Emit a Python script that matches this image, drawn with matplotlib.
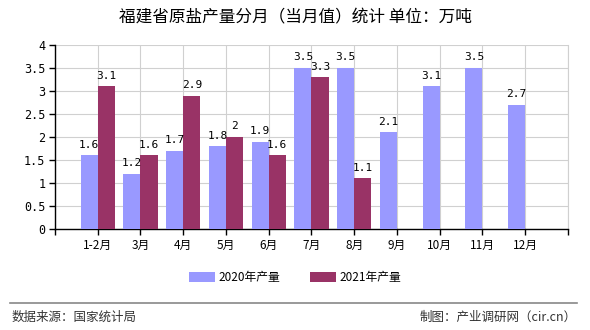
import matplotlib.pyplot as plt
import numpy as np

plt.rcParams['font.family'] = ['Noto Sans CJK SC', 'DejaVu Sans']

# 月份与两年产量（万吨）
months = ['1-2月', '3月', '4月', '5月', '6月', '7月', '8月', '9月', '10月', '11月', '12月']
output_2020 = [1.6, 1.2, 1.7, 1.8, 1.9, 3.5, 3.5, 2.1, 3.1, 3.5, 2.7]
output_2021 = [3.1, 1.6, 2.9, 2.0, 1.6, 3.3, 1.1]
yticks = [0, 0.5, 1, 1.5, 2, 2.5, 3, 3.5, 4]

c2020 = '#9999FF'
c2021 = '#993366'

fig = plt.figure(figsize=(5.9, 3.3), dpi=100)
ax = fig.add_axes([0.0932, 0.306, 0.8695, 0.5576])

x = np.arange(1, len(months) + 1)
x21 = x[:len(output_2021)]
w = 0.4
b1 = ax.bar(x - w / 2, output_2020, w, color=c2020, label='2020年产量', zorder=3)
b2 = ax.bar(x21 + w / 2, output_2021, w, color=c2021, label='2021年产量', zorder=3)

# 柱顶数值
for bars, vals in ((b1, output_2020), (b2, output_2021)):
    for rect, v in zip(bars, vals):
        ax.text(rect.get_x() + rect.get_width() / 2, v + 0.12, '%g' % v,
                ha='center', va='bottom', fontsize=8, family='DejaVu Sans Mono')

ax.set_xlim(0, 12)
ax.set_ylim(0, 4)
ax.set_xticks(range(0, 13))
ax.set_xticklabels([''] + months + [''], fontsize=8.5)
ax.set_yticks(yticks)
ax.set_yticklabels(['%g' % t for t in yticks], fontsize=8.5, family='DejaVu Sans Mono')
ax.grid(True, color='#d0d0d0', linewidth=0.8, zorder=0)
ax.tick_params(axis='both', length=4, width=1, color='black', pad=3)
ax.spines['top'].set_visible(False)
ax.spines['right'].set_color('#d0d0d0')
for s in ('left', 'bottom'):
    ax.spines[s].set_color('black')
    ax.spines[s].set_linewidth(1)

fig.text(0.5, 0.945, '福建省原盐产量分月（当月值）统计 单位：万吨',
         ha='center', va='center', fontsize=12)

fig.legend(handles=[b1, b2], loc='center', bbox_to_anchor=(0.5, 0.16), ncol=2,
           frameon=False, fontsize=8.5, handlelength=2.2, handleheight=0.9,
           columnspacing=2.5, handletextpad=0.3)

fig.add_artist(plt.Line2D([0.017, 0.978], [0.083, 0.083], color='#888888', linewidth=1.2))
fig.text(0.02, 0.04, '数据来源：国家统计局', ha='left', va='center', fontsize=9, color='#333333')
fig.text(0.978, 0.04, '制图：产业调研网（cir.cn）', ha='right', va='center', fontsize=9, color='#333333')

fig.savefig('out.png', dpi=100)
